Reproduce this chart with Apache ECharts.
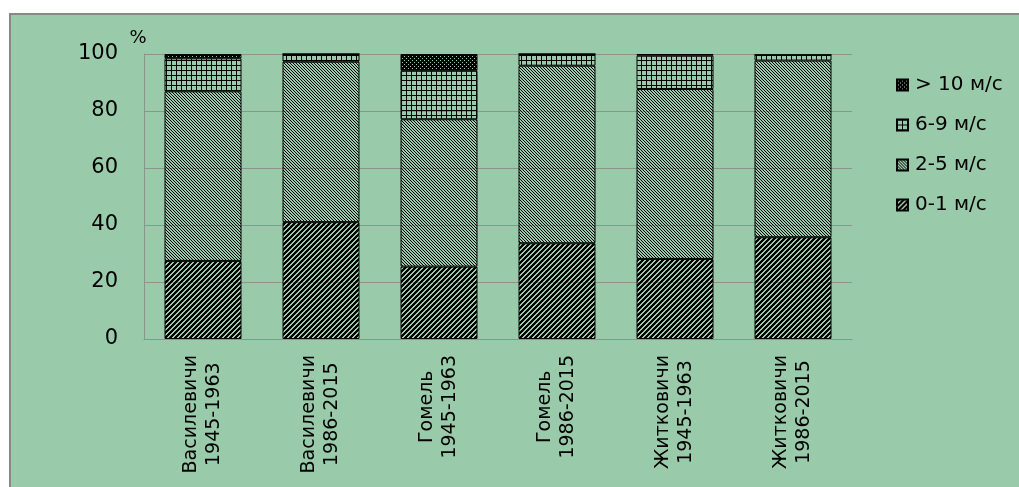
<!DOCTYPE html>
<html>
<head>
<meta charset="utf-8">
<script src="https://cdn.jsdelivr.net/npm/echarts@6/dist/echarts.min.js"></script>
<style>
html, body { margin: 0; padding: 0; background: #fff; overflow: hidden; }
#frame { position: absolute; left: 9px; top: 13px; width: 1100px; height: 560px;
         border-left: 2px solid #888; border-top: 2px solid #888; background: #99cbaa; }
#chart { width: 1010px; height: 474px; }
</style>
</head>
<body>
<div id="frame"><div id="chart"></div></div>
<script>
var stations = ['Василевичи', 'Василевичи', 'Гомель', 'Гомель', 'Житковичи', 'Житковичи'];
var periods = ['1945-1963', '1986-2015', '1945-1963', '1986-2015', '1945-1963', '1986-2015'];
var seriesNames = ['0-1 м/с', '2-5 м/с', '6-9 м/с', '> 10 м/с'];
var calm = [27.4, 41, 25.4, 33.6, 28.1, 35.7];
var moderate = [59.5, 56.3, 51.7, 62.3, 59.6, 62];
var strong = [11.6, 2.7, 17, 4.1, 11.7, 2];
var storm = [1.5, 0, 5.9, 0, 0.6, 0];
var yTicks = [0, 20, 40, 60, 80, 100];

var categories = [];
for (var i = 0; i < stations.length; i++) {
    categories.push(stations[i] + '\n' + periods[i]);
}

// small tiles to imitate the excel hatch fills
function makePattern(size, fn) {
    var c = document.createElement('canvas');
    c.width = size;
    c.height = size;
    var ctx = c.getContext('2d');
    ctx.fillStyle = '#000';
    for (var x = 0; x < size; x++) {
        for (var y = 0; y < size; y++) {
            if (fn(x, y)) ctx.fillRect(x, y, 1, 1);
        }
    }
    return { image: c, repeat: 'repeat' };
}
var patCalm = makePattern(5, function(x, y) { return (x + y) % 5 < 3; });
var patModerate = makePattern(3, function(x, y) { return ((x - y) % 3 + 3) % 3 == 0; });
var patStrong = makePattern(5, function(x, y) { return x == 0 || y == 0; });
var patStorm = makePattern(4, function(x, y) { return !((x == 1 && y == 1) || (x == 3 && y == 3)); });

function barSeries(name, data, pat) {
    return {
        name: name,
        type: 'bar',
        stack: 'all',
        barWidth: 77,
        data: data,
        itemStyle: { color: pat, borderColor: '#000', borderWidth: 1 }
    };
}

var chart = echarts.init(document.getElementById('chart'));
var option = {
    animation: false,
    backgroundColor: 'rgba(0,0,0,0)',
    textStyle: { fontFamily: 'DejaVu Sans' },
    grid: { left: 133, top: 39, width: 708, height: 285 },
    legend: {
        orient: 'vertical',
        left: 880,
        top: 54,
        itemWidth: 11,
        itemHeight: 11,
        itemGap: 18,
        icon: 'rect',
        data: [seriesNames[3], seriesNames[2], seriesNames[1], seriesNames[0]],
        textStyle: { fontSize: 20, color: '#000', lineHeight: 22, padding: [0, 0, 0, 2] }
    },
    xAxis: {
        type: 'category',
        data: categories,
        axisLine: { lineStyle: { color: '#8c948e', width: 1 } },
        axisTick: { show: false },
        axisLabel: {
            rotate: 90,
            margin: 16,
            color: '#000',
            fontSize: 19,
            lineHeight: 23,
            interval: 0,
            formatter: function(v) {
                var p = v.split('\n');
                return '{c|' + p[0] + '}\n{c|' + p[1] + '}';
            },
            rich: { c: { align: 'center', fontSize: 19, lineHeight: 23, color: '#000', fontFamily: 'DejaVu Sans' } }
        }
    },
    yAxis: {
        type: 'value',
        min: yTicks[0],
        max: yTicks[yTicks.length - 1],
        interval: 20,
        name: '%',
        nameGap: 7,
        nameTextStyle: { fontSize: 18, color: '#000', align: 'center', padding: [0, 12, 0, 0] },
        axisLine: { show: true, lineStyle: { color: '#8c948e', width: 1 } },
        axisTick: { show: false },
        splitLine: { lineStyle: { color: '#8c948e', width: 1 } },
        axisLabel: { margin: 26, fontSize: 21, color: '#000' }
    },
    series: [
        barSeries(seriesNames[0], calm, patCalm),
        barSeries(seriesNames[1], moderate, patModerate),
        barSeries(seriesNames[2], strong, patStrong),
        barSeries(seriesNames[3], storm, patStorm)
    ]
};
chart.setOption(option);
</script>
</body>
</html>
